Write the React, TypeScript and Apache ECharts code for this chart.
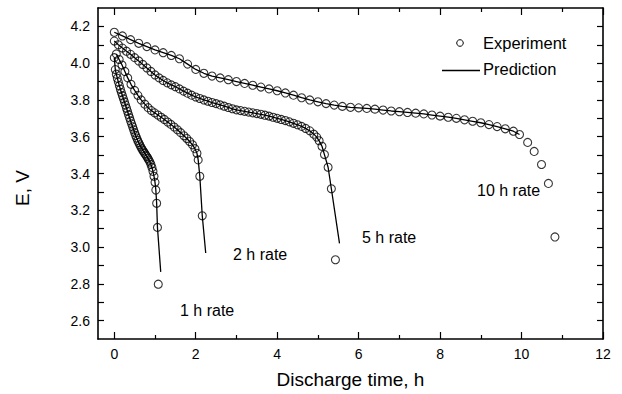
import { useEffect, useRef } from "react";
import * as echarts from "echarts";

// Discharge curves of E (V) against discharge time (h) at four rates
const exp1h: number[][] = [
  [0.0, 4.03], [0.025, 3.965], [0.05, 3.94], [0.075, 3.918], [0.1, 3.897],
  [0.125, 3.877], [0.15, 3.858], [0.175, 3.84], [0.2, 3.823], [0.225, 3.806],
  [0.25, 3.789], [0.275, 3.772], [0.3, 3.755], [0.325, 3.738], [0.35, 3.72],
  [0.375, 3.703], [0.4, 3.686], [0.425, 3.67], [0.45, 3.654], [0.475, 3.638],
  [0.5, 3.622], [0.525, 3.607], [0.55, 3.593], [0.575, 3.58], [0.6, 3.568],
  [0.625, 3.556], [0.65, 3.545], [0.675, 3.535], [0.7, 3.526], [0.725, 3.517],
  [0.75, 3.509], [0.775, 3.5], [0.8, 3.492], [0.825, 3.483], [0.85, 3.473],
  [0.875, 3.462], [0.9, 3.449], [0.925, 3.433], [0.95, 3.412], [0.975, 3.385],
  [1.0, 3.352], [1.02, 3.31], [1.04, 3.238], [1.06, 3.107], [1.08, 2.798],
];

const exp2h: number[][] = [
  [0.05, 4.05], [0.12, 4.02], [0.19, 3.99], [0.26, 3.955], [0.33, 3.92],
  [0.41, 3.885], [0.5, 3.852], [0.58, 3.825], [0.66, 3.8], [0.75, 3.777],
  [0.83, 3.758], [0.91, 3.742], [0.99, 3.73], [1.07, 3.718], [1.15, 3.706],
  [1.23, 3.694], [1.31, 3.68], [1.39, 3.667], [1.47, 3.653], [1.55, 3.638],
  [1.63, 3.622], [1.71, 3.605], [1.78, 3.59], [1.85, 3.574], [1.92, 3.556],
  [1.98, 3.535], [2.03, 3.51], [2.06, 3.474], [2.1, 3.385], [2.16, 3.17],
];

const exp5h: number[][] = [
  [0.0, 4.12], [0.1, 4.1], [0.2, 4.082], [0.3, 4.065], [0.4, 4.048],
  [0.5, 4.03], [0.6, 4.012], [0.7, 3.993], [0.8, 3.974], [0.9, 3.955],
  [1.0, 3.936], [1.1, 3.92], [1.2, 3.906], [1.3, 3.893], [1.4, 3.882],
  [1.5, 3.872], [1.6, 3.86], [1.7, 3.848], [1.8, 3.837], [1.9, 3.826],
  [2.0, 3.816], [2.1, 3.808], [2.2, 3.8], [2.3, 3.793], [2.4, 3.786],
  [2.5, 3.78], [2.6, 3.773], [2.7, 3.766], [2.8, 3.759], [2.9, 3.752],
  [3.0, 3.746], [3.1, 3.742], [3.2, 3.738], [3.3, 3.734], [3.4, 3.73],
  [3.5, 3.726], [3.6, 3.722], [3.7, 3.717], [3.8, 3.712], [3.9, 3.706],
  [4.0, 3.7], [4.1, 3.694], [4.2, 3.688], [4.3, 3.681], [4.4, 3.673],
  [4.5, 3.665], [4.6, 3.656], [4.7, 3.645], [4.8, 3.632], [4.9, 3.614],
  [4.97, 3.598], [5.03, 3.578], [5.1, 3.548], [5.16, 3.503], [5.25, 3.434],
  [5.33, 3.317], [5.43, 2.931],
];

const exp10h: number[][] = [
  [0.0, 4.168], [0.2, 4.148], [0.4, 4.128], [0.6, 4.108], [0.8, 4.09],
  [1.0, 4.072], [1.2, 4.057], [1.4, 4.042], [1.6, 4.024], [1.8, 3.995],
  [2.0, 3.966], [2.2, 3.945], [2.4, 3.93], [2.6, 3.92], [2.8, 3.91],
  [3.0, 3.9], [3.2, 3.89], [3.4, 3.88], [3.6, 3.87], [3.8, 3.86],
  [4.0, 3.85], [4.2, 3.838], [4.4, 3.826], [4.6, 3.812], [4.8, 3.8],
  [5.0, 3.79], [5.2, 3.78], [5.4, 3.772], [5.6, 3.765], [5.8, 3.76],
  [6.0, 3.757], [6.2, 3.754], [6.4, 3.75], [6.6, 3.745], [6.8, 3.74],
  [7.0, 3.736], [7.2, 3.732], [7.4, 3.728], [7.6, 3.724], [7.8, 3.718],
  [8.0, 3.712], [8.2, 3.706], [8.4, 3.7], [8.6, 3.692], [8.8, 3.684],
  [9.0, 3.676], [9.2, 3.666], [9.4, 3.655], [9.6, 3.643], [9.8, 3.63],
  [9.95, 3.612], [10.15, 3.569], [10.31, 3.52], [10.49, 3.449], [10.66, 3.346],
  [10.82, 3.055],
];

// Model curves: they run through the measured points and end at these cut-off values
const pred1hEnd = [1.14, 2.865];
const pred2hEnd = [2.245, 2.968];
const pred5hEnd = [5.53, 3.02];
const pred10hLastIndex = 50;

const pred1h = [...exp1h.slice(0, -1), pred1hEnd];
const pred2h = [...exp2h, pred2hEnd];
const pred5h = [...exp5h.slice(0, -1), pred5hEnd];
const pred10h = exp10h.slice(0, pred10hLastIndex + 1);

const xMajorTicks = [0, 2, 4, 6, 8, 10, 12];
const xMinorTicks = [1, 3, 5, 7, 9, 11];
const yTicks = [2.6, 2.7, 2.8, 2.9, 3.0, 3.1, 3.2, 3.3, 3.4, 3.5, 3.6, 3.7, 3.8, 3.9, 4.0, 4.1, 4.2];
const yLabels = [2.6, 2.8, 3.0, 3.2, 3.4, 3.6, 3.8, 4.0, 4.2];

const rateLabels = [
  { text: "1 h rate", x: 180, y: 310 },
  { text: "2 h rate", x: 233, y: 254 },
  { text: "5 h rate", x: 362, y: 237 },
  { text: "10 h rate", x: 477, y: 190 },
];

const legendItems = ["Experiment", "Prediction"];

const FONT = 'Arial, "Liberation Sans", Helvetica, sans-serif';
const INK = "#000";

export default function App() {
  const ref = useRef<HTMLDivElement>(null);

  useEffect(() => {
    if (!ref.current) return;
    const chart = echarts.init(ref.current, undefined, { renderer: "svg" });

    const frame = { show: true, onZero: false, lineStyle: { color: INK, width: 1.6 } };
    const tickStyle = { color: INK, width: 1.2 };
    const xRange = { type: "value" as const, min: -0.4, max: 12, splitLine: { show: false } };
    const yRange = { type: "value" as const, min: 2.5, max: 4.3, splitLine: { show: false } };

    const expStyle = {
      type: "scatter" as const,
      name: legendItems[0],
      symbol: "circle",
      symbolSize: 8,
      itemStyle: { color: "rgba(0,0,0,0)", borderColor: INK, borderWidth: 1.1 },
      z: 3,
    };
    const predStyle = {
      type: "line" as const,
      name: legendItems[1],
      showSymbol: false,
      symbol: "none",
      itemStyle: { color: INK },
      lineStyle: { color: INK, width: 1.3 },
      z: 2,
    };

    const textStyle = (text: string, size: number) => ({
      text,
      fontSize: size,
      fontFamily: FONT,
      fill: INK,
      align: "left",
      verticalAlign: "middle",
    });

    chart.setOption({
      animation: false,
      backgroundColor: "#fff",
      grid: { left: 98, right: 19, top: 8, bottom: 53 },
      xAxis: [
        {
          ...xRange,
          position: "bottom",
          axisLine: frame,
          axisTick: { show: true, inside: true, length: 7, customValues: xMajorTicks, lineStyle: tickStyle },
          axisLabel: {
            customValues: xMajorTicks,
            margin: 8,
            fontSize: 14,
            fontFamily: FONT,
            color: INK,
          },
          name: "Discharge time, h",
          nameLocation: "middle",
          nameGap: 31,
          nameTextStyle: { fontSize: 19, fontFamily: FONT, color: INK },
        },
        {
          ...xRange,
          position: "bottom",
          axisLine: { show: false, onZero: false },
          axisTick: { show: true, inside: true, length: 4, customValues: xMinorTicks, lineStyle: tickStyle },
          axisLabel: { show: false },
        },
        {
          ...xRange,
          position: "top",
          axisLine: frame,
          axisTick: { show: true, inside: true, length: 7, customValues: xMajorTicks, lineStyle: tickStyle },
          axisLabel: { show: false },
        },
        {
          ...xRange,
          position: "top",
          axisLine: { show: false, onZero: false },
          axisTick: { show: true, inside: true, length: 4, customValues: xMinorTicks, lineStyle: tickStyle },
          axisLabel: { show: false },
        },
      ],
      yAxis: [
        {
          ...yRange,
          position: "left",
          axisLine: frame,
          axisTick: { show: true, inside: true, length: 6, customValues: yTicks, lineStyle: tickStyle },
          axisLabel: {
            customValues: yLabels,
            margin: 8,
            fontSize: 14,
            fontFamily: FONT,
            color: INK,
            formatter: (v: number) => v.toFixed(1),
          },
        },
        {
          ...yRange,
          position: "right",
          axisLine: frame,
          axisTick: { show: true, inside: true, length: 6, customValues: yTicks, lineStyle: tickStyle },
          axisLabel: { show: false },
        },
      ],
      graphic: [
        {
          type: "text",
          x: 22,
          y: 188,
          rotation: Math.PI / 2,
          style: { ...textStyle("E, V", 19), align: "center" },
        },
        ...rateLabels.map((r) => ({
          type: "text",
          x: r.x,
          y: r.y,
          style: textStyle(r.text, 16),
        })),
        // key: hollow circle for measured points, plain line for the model
        {
          type: "circle",
          shape: { cx: 460, cy: 43, r: 3.3 },
          style: { fill: "none", stroke: INK, lineWidth: 1 },
        },
        { type: "text", x: 483, y: 43, style: textStyle(legendItems[0], 16.5) },
        {
          type: "line",
          shape: { x1: 442, y1: 70.5, x2: 480, y2: 70.5 },
          style: { stroke: INK, lineWidth: 1.3 },
        },
        { type: "text", x: 483, y: 68.5, style: textStyle(legendItems[1], 16.5) },
      ],
      series: [
        { ...predStyle, data: pred1h },
        { ...predStyle, data: pred2h },
        { ...predStyle, data: pred5h },
        { ...predStyle, data: pred10h },
        { ...expStyle, data: exp1h },
        { ...expStyle, data: exp2h },
        { ...expStyle, data: exp5h },
        { ...expStyle, data: exp10h },
      ],
    });

    return () => chart.dispose();
  }, []);

  return (
    <div
      ref={ref}
      style={{ position: "fixed", left: 0, top: 0, width: 622, height: 394, background: "#fff" }}
    />
  );
}
